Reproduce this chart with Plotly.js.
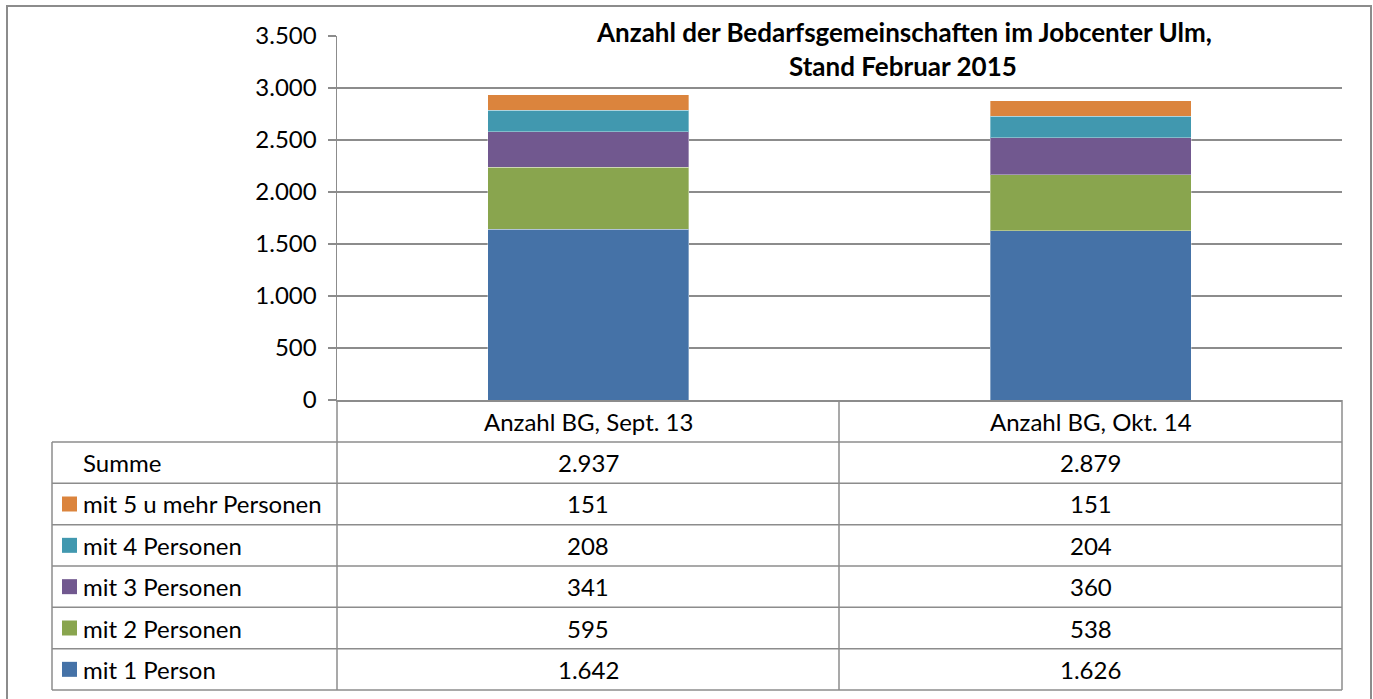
<!DOCTYPE html>
<html>
<head>
<meta charset="utf-8">
<script src="https://cdn.plot.ly/plotly-3.0.1.min.js"></script>
<style>html,body{margin:0;padding:0;background:#fff;}#chart{width:1373px;height:699px;}</style>
</head>
<body>
<div id="chart"></div>
<script>
var categories = ["Anzahl BG, Sept. 13", "Anzahl BG, Okt. 14"];
var seriesNames = ["mit 1 Person", "mit 2 Personen", "mit 3 Personen", "mit 4 Personen", "mit 5 u mehr Personen"];
var mit1 = [1642, 1626];
var mit2 = [595, 538];
var mit3 = [341, 360];
var mit4 = [208, 204];
var mit5 = [151, 151];
var summe = [2937, 2879];
var seriesColors = ["#4572A7", "#89A54E", "#71588F", "#4198AF", "#DB843D"];
var yTicks = [0, 500, 1000, 1500, 2000, 2500, 3000, 3500];

var seriesValues = [mit1, mit2, mit3, mit4, mit5];
var FONT = "Lato, 'Open Sans', sans-serif";
var GRID = "#8c8c8c";
var FS = 24;

// pixel -> paper helpers (plot area: x 337..1342, y 36..400)
var L = 337, R = 1342, T = 36, B = 400;
function xp(px){ return (px - L) / (R - L); }
function yp(py){ return (B - py) / (B - T); }
function fmt(n){ return String(n).replace(/\B(?=(\d{3})+(?!\d))/g, "."); }

var traces = seriesValues.map(function(vals, i){
  return {
    type: "bar", x: categories, y: vals, name: seriesNames[i],
    marker: {color: seriesColors[i], line: {color: "rgba(255,255,255,0.35)", width: 1}},
    width: 0.4, showlegend: false, hoverinfo: "skip"
  };
});

var shapes = [];
var annotations = [];
function hline(y, x0, x1){ shapes.push({type:"line", xref:"paper", yref:"paper", x0:xp(x0), x1:xp(x1), y0:yp(y), y1:yp(y), line:{color:GRID, width:1.5}}); }
function vline(x, y0, y1){ shapes.push({type:"line", xref:"paper", yref:"paper", x0:xp(x), x1:xp(x), y0:yp(y0), y1:yp(y1), line:{color:GRID, width:1.5}}); }

// table geometry
var colX = [337, 839, 1342];
var headTop = 400, bodyTop = 442, bodyBottom = 690;
var rowLabels = ["Summe"].concat(seriesNames.slice().reverse());
var rowData = [summe].concat(seriesValues.slice().reverse());
var rowColors = [null].concat(seriesColors.slice().reverse());
var nRows = rowLabels.length;
var rowH = (bodyBottom - bodyTop) / nRows;

hline(bodyTop, 52, 1342);
for (var r = 1; r <= nRows; r++) hline(bodyTop + r * rowH, 52, 1342);
vline(52, bodyTop, bodyBottom);
vline(337, headTop, bodyBottom);
vline(839, headTop, bodyBottom);
vline(1342, headTop, bodyBottom);

categories.forEach(function(c, j){
  annotations.push({xref:"paper", yref:"paper", x:xp((colX[j]+colX[j+1])/2), y:yp((headTop+bodyTop)/2), text:c, showarrow:false, xanchor:"center", yanchor:"middle", font:{family:FONT, size:FS, color:"#000"}});
});

for (var r = 0; r < nRows; r++){
  var cy = bodyTop + (r + 0.5) * rowH;
  annotations.push({xref:"paper", yref:"paper", x:xp(81), y:yp(cy), text:rowLabels[r], showarrow:false, xanchor:"left", yanchor:"middle", font:{family:FONT, size:FS, color:"#000"}});
  if (rowColors[r]) {
    shapes.push({type:"rect", xref:"paper", yref:"paper", x0:xp(62), x1:xp(77), y0:yp(cy-7.5), y1:yp(cy+7.5), fillcolor:rowColors[r], line:{width:0}});
  }
  for (var j = 0; j < categories.length; j++){
    annotations.push({xref:"paper", yref:"paper", x:xp((colX[j]+colX[j+1])/2), y:yp(cy), text:fmt(rowData[r][j]), showarrow:false, xanchor:"center", yanchor:"middle", font:{family:FONT, size:FS, color:"#000"}});
  }
}

annotations.push({xref:"paper", yref:"paper", x:xp(904), y:yp(32), text:"<b>Anzahl der Bedarfsgemeinschaften im Jobcenter Ulm,</b>", showarrow:false, xanchor:"center", yanchor:"middle", font:{family:FONT, size:26, color:"#000"}});
annotations.push({xref:"paper", yref:"paper", x:xp(903), y:yp(66), text:"<b>Stand Februar 2015</b>", showarrow:false, xanchor:"center", yanchor:"middle", font:{family:FONT, size:26, color:"#000"}});

shapes.push({type:"rect", xref:"paper", yref:"paper", x0:xp(7), x1:xp(1371), y0:yp(6), y1:yp(702), line:{color:"#8c8c8c", width:2}, fillcolor:"rgba(0,0,0,0)", layer:"below"});

var layout = {
  width: 1373, height: 699,
  margin: {l: L, r: 1373 - R, t: T, b: 699 - B, pad: 0},
  paper_bgcolor: "#fff", plot_bgcolor: "#fff",
  barmode: "stack",
  separators: ",.",
  showlegend: false,
  xaxis: {type:"category", range:[-0.5, 1.5], showticklabels:false, ticks:"", showgrid:false, showline:true, linecolor:GRID, linewidth:1.5, zeroline:false, fixedrange:true},
  yaxis: {range:[0, 3500], tickvals: yTicks, ticktext: yTicks.map(fmt), ticks:"outside", ticklen:8, tickcolor:GRID, tickwidth:1.5,
          showgrid:true, gridcolor:GRID, gridwidth:1.5, showline:true, linecolor:GRID, linewidth:1.5, zeroline:false,
          tickfont:{family:FONT, size:FS, color:"#000"}, ticklabelstandoff: 6, fixedrange:true},
  shapes: shapes,
  annotations: annotations
};

Plotly.newPlot("chart", traces, layout, {displayModeBar:false, staticPlot:true});
</script>
</body>
</html>
